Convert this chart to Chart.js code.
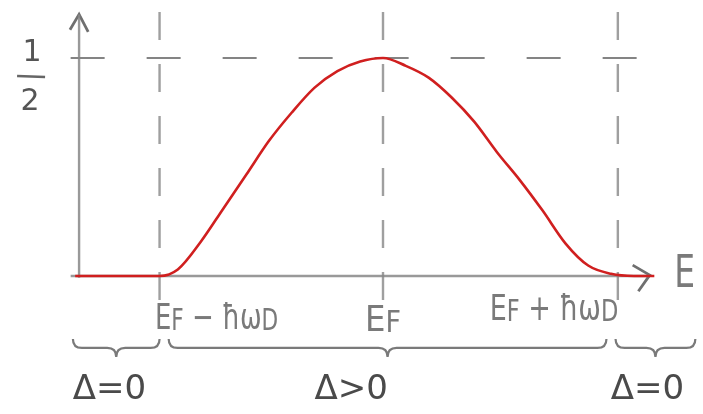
<!DOCTYPE html>
<html>
<head>
<meta charset="utf-8">
<script src="https://cdn.jsdelivr.net/npm/chart.js@4.4.1/dist/chart.umd.min.js"></script>
<style>
  html, body { margin: 0; padding: 0; background: #ffffff; }
  #wrap { width: 703px; height: 414px; }
</style>
</head>
<body>
<div id="wrap"><canvas id="c" width="703" height="414"></canvas></div>
<script>
// ---- data (energy in units of ħω_D, measured from E_F) ----
const curveE = [-1.35, -0.98, -0.90, -0.80, -0.70, -0.60, -0.50, -0.40, -0.30, -0.20, -0.10, 0.00, 0.10, 0.20, 0.30, 0.40, 0.50, 0.60, 0.70, 0.80, 0.90, 1.00, 1.10, 1.19];
const curveY = [0, 0, 0.015, 0.078, 0.155, 0.232, 0.31, 0.375, 0.432, 0.47, 0.492, 0.50, 0.482, 0.455, 0.41, 0.354, 0.284, 0.22, 0.15, 0.075, 0.024, 0.005, 0, 0];

const markerE = [-0.98, 0.00, 1.03];              // E_F-ħω_D, E_F, E_F+ħω_D
const markerLabels = ["E_F − ħω_D", "E_F", "E_F + ħω_D"];
const markerLabelE = [-0.73, 0.00, 0.75];          // where each label sits
const halfLevel = 0.5;
const yTickLabel = "1/2";
const axisLabel = "E";

const regionStart = [-1.36, -0.94, 1.02];
const regionEnd   = [-0.98, 0.98, 1.37];
const regionLabels = ["Δ=0", "Δ>0", "Δ=0"];
const regionLabelE = [-1.20, -0.14, 1.16];

// axis extents (data units)
const xAxisFrom = -1.37, xAxisTo = 1.17;
const yAxisAt = -1.333, yAxisTop = 0.60;
const dashTop = 0.615, dashBottom = -0.055;
const hDashFrom = -1.37, hDashTo = 1.24;

// ---- build datasets ----
const pts = (xs, ys) => xs.map((x, i) => ({x: x, y: ys[i]}));
const gray = "rgba(135,135,135,0.85)";

const datasets = [];
// vertical dashed markers
markerE.forEach(e => datasets.push({
  data: [{x: e, y: dashBottom}, {x: e, y: dashTop}],
  borderColor: "rgba(135,135,135,0.8)", borderWidth: 2.4, borderDash: [28, 24],
  pointRadius: 0, tension: 0, order: 5
}));
// horizontal dashed at 1/2
datasets.push({
  data: [{x: hDashFrom, y: halfLevel}, {x: hDashTo, y: halfLevel}],
  borderColor: "rgba(110,110,110,0.85)", borderWidth: 2.2, borderDash: [34, 42],
  pointRadius: 0, tension: 0, order: 5
});
// axes
datasets.push({
  data: [{x: xAxisFrom, y: 0}, {x: xAxisTo, y: 0}],
  borderColor: gray, borderWidth: 2.4, pointRadius: 0, tension: 0, order: 4
});
datasets.push({
  data: [{x: yAxisAt, y: -0.004}, {x: yAxisAt, y: yAxisTop}],
  borderColor: gray, borderWidth: 2.4, pointRadius: 0, tension: 0, order: 4
});
// arrow heads
datasets.push({
  data: [{x: yAxisAt - 0.04, y: yAxisTop - 0.035}, {x: yAxisAt, y: yAxisTop}, {x: yAxisAt + 0.04, y: yAxisTop - 0.04}],
  borderColor: "rgba(95,95,95,0.9)", borderWidth: 2.8, pointRadius: 0, tension: 0, order: 4
});
datasets.push({
  data: [{x: xAxisTo - 0.075, y: 0.025}, {x: xAxisTo, y: 0.002}, {x: xAxisTo - 0.05, y: -0.035}],
  borderColor: "rgba(95,95,95,0.9)", borderWidth: 2.8, pointRadius: 0, tension: 0, order: 4
});
// the red curve
datasets.push({
  data: pts(curveE, curveY),
  borderColor: "#d01f1f", borderWidth: 2.6, pointRadius: 0,
  cubicInterpolationMode: "monotone", order: 1
});

// ---- text / braces plugin ----
function parseRich(label, big, small) {
  const parts = [];
  for (let i = 0; i < label.length; i++) {
    const ch = label[i];
    if (ch === "_" && i + 1 < label.length) {
      parts.push({t: label[i + 1], s: small, dy: big * 0.06});
      i++;
    } else {
      const last = parts[parts.length - 1];
      if (last && last.s === big) last.t += ch; else parts.push({t: ch, s: big, dy: 0});
    }
  }
  return parts;
}
function drawRich(ctx, parts, x, y, sx, family) {
  let w = 0;
  parts.forEach(p => { ctx.font = p.s + "px " + family; p.w = ctx.measureText(p.t).width; w += p.w; });
  ctx.save();
  ctx.translate(x, y);
  ctx.scale(sx, 1);
  let cx = -w / 2;
  ctx.textAlign = "left";
  parts.forEach(p => { ctx.font = p.s + "px " + family; ctx.fillText(p.t, cx, p.dy); cx += p.w; });
  ctx.restore();
}

const sketchText = {
  id: "sketchText",
  afterDatasetsDraw(chart) {
    const ctx = chart.ctx, xs = chart.scales.x, ys = chart.scales.y;
    const fam = "'DejaVu Sans', sans-serif";
    ctx.save();
    ctx.textBaseline = "middle";
    // y tick label 1/2
    const yHalf = ys.getPixelForValue(halfLevel);
    const [num, den] = yTickLabel.split("/");
    const lx = xs.getPixelForValue(yAxisAt) - 49;
    ctx.fillStyle = "#555";
    ctx.font = "30px " + fam;
    ctx.textAlign = "center";
    ctx.fillText(num, lx + 2, yHalf - 5);
    ctx.fillText(den, lx, yHalf + 44);
    ctx.strokeStyle = "#666"; ctx.lineWidth = 2.6;
    ctx.beginPath(); ctx.moveTo(lx - 13, yHalf + 18); ctx.lineTo(lx + 15, yHalf + 19); ctx.stroke();

    // axis label E
    ctx.fillStyle = "#7a7a7a";
    drawRich(ctx, [{t: axisLabel, s: 44, dy: 0}], xs.getPixelForValue(xAxisTo) + 35, ys.getPixelForValue(0), 0.75, fam);

    // marker labels
    const labelY = [-0.10, -0.105, -0.08];
    const labelScale = [0.72, 0.9, 0.75];
    markerLabels.forEach((lab, i) => {
      ctx.fillStyle = "#7a7a7a";
      drawRich(ctx, parseRich(lab, 36, 30), xs.getPixelForValue(markerLabelE[i]), ys.getPixelForValue(labelY[i]), labelScale[i], fam);
    });

    // braces
    const by = ys.getPixelForValue(-0.165), h = 9;
    ctx.strokeStyle = "#7a7a7a"; ctx.lineWidth = 2.2;
    regionStart.forEach((a, i) => {
      const x1 = xs.getPixelForValue(a), x2 = xs.getPixelForValue(regionEnd[i]), xm = (x1 + x2) / 2;
      ctx.beginPath();
      ctx.moveTo(x1, by - h);
      ctx.quadraticCurveTo(x1, by, x1 + h, by);
      ctx.lineTo(xm - h, by);
      ctx.quadraticCurveTo(xm, by, xm, by + h);
      ctx.quadraticCurveTo(xm, by, xm + h, by);
      ctx.lineTo(x2 - h, by);
      ctx.quadraticCurveTo(x2, by, x2, by - h);
      ctx.stroke();
    });

    // region labels
    ctx.fillStyle = "#4a4a4a";
    regionLabels.forEach((lab, i) => {
      drawRich(ctx, [{t: lab, s: 34, dy: 0}], xs.getPixelForValue(regionLabelE[i]), ys.getPixelForValue(-0.262), 1.0, fam);
    });
    ctx.restore();
  }
};

new Chart(document.getElementById("c"), {
  type: "line",
  data: { datasets: datasets },
  options: {
    responsive: false,
    animation: false,
    devicePixelRatio: 1,
    layout: { padding: 0 },
    plugins: { legend: { display: false }, tooltip: { enabled: false } },
    scales: {
      x: { type: "linear", display: false, min: -383 / 228, max: 320 / 228 },
      y: { type: "linear", display: false, min: -138 / 436, max: 276 / 436 }
    }
  },
  plugins: [sketchText]
});
</script>
</body>
</html>
